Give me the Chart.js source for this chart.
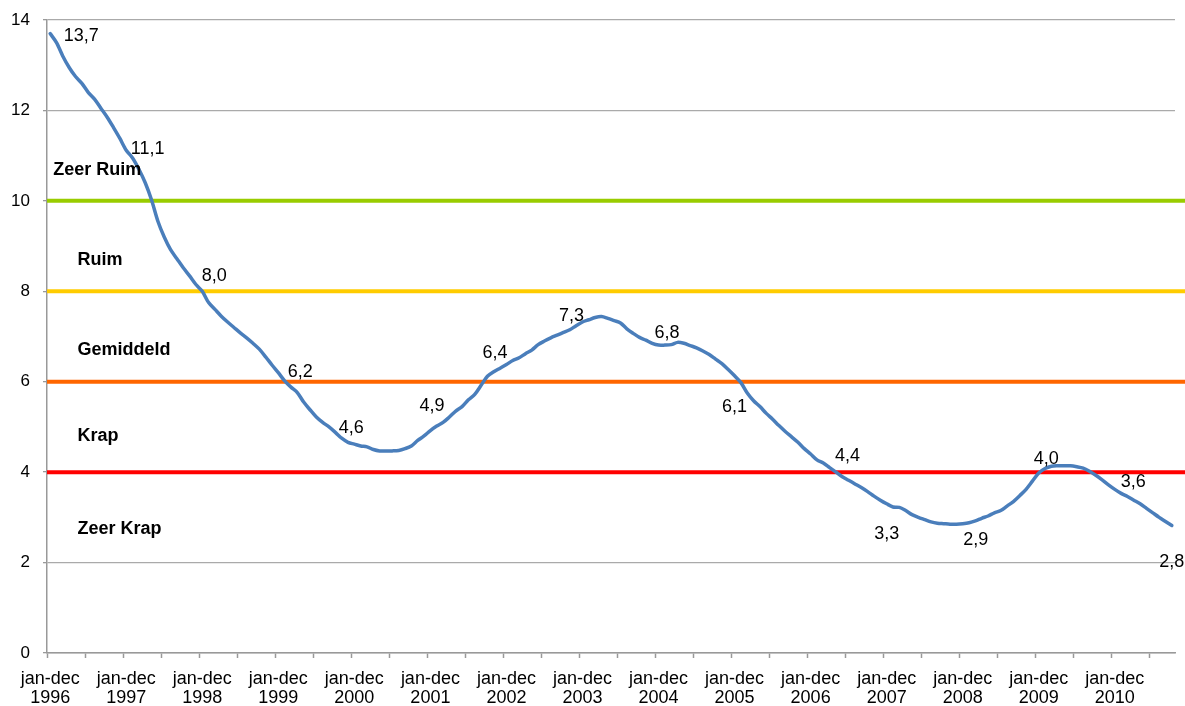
<!DOCTYPE html>
<html>
<head>
<meta charset="utf-8">
<script src="https://cdn.jsdelivr.net/npm/chart.js@4.4.1/dist/chart.umd.min.js"></script>
<style>
html,body{margin:0;padding:0;background:#fff;}
#wrap{width:1185px;height:706px;position:relative;}
</style>
</head>
<body>
<div id="wrap"><canvas id="c"></canvas></div>
<script>
// ---- data ----
const years = [1996,1997,1998,1999,2000,2001,2002,2003,2004,2005,2006,2007,2008,2009,2010];
const monthNames = ['jan','feb','mrt','apr','mei','jun','jul','aug','sep','okt','nov','dec'];
const values = [
  13.7,13.5,13.2,12.95,12.75,12.6,12.4,12.25,12.05,11.85,11.62,11.38,
  11.12,10.95,10.7,10.4,10.02,9.55,9.2,8.92,8.72,8.52,8.34,8.15,
  8.0,7.75,7.6,7.45,7.32,7.2,7.08,6.97,6.85,6.72,6.55,6.37,
  6.2,6.02,5.88,5.76,5.55,5.38,5.22,5.1,5.0,4.88,4.75,4.66,
  4.62,4.58,4.56,4.5,4.47,4.47,4.47,4.48,4.52,4.58,4.7,4.8,
  4.92,5.02,5.1,5.22,5.35,5.45,5.6,5.72,5.92,6.12,6.22,6.3,
  6.38,6.47,6.53,6.62,6.7,6.82,6.9,6.97,7.03,7.09,7.15,7.24,
  7.32,7.37,7.42,7.44,7.4,7.35,7.3,7.17,7.07,6.98,6.92,6.85,
  6.81,6.81,6.82,6.87,6.85,6.8,6.75,6.68,6.6,6.5,6.4,6.27,
  6.13,5.98,5.75,5.58,5.45,5.3,5.17,5.03,4.9,4.78,4.66,4.52,
  4.4,4.27,4.2,4.1,4.0,3.9,3.82,3.74,3.66,3.57,3.47,3.38,
  3.3,3.23,3.22,3.15,3.06,3.0,2.95,2.9,2.87,2.86,2.85,2.85,
  2.86,2.88,2.92,2.98,3.03,3.1,3.15,3.25,3.35,3.48,3.62,3.8,
  3.98,4.08,4.13,4.14,4.14,4.14,4.12,4.09,4.02,3.93,3.83,3.72,
  3.62,3.53,3.46,3.38,3.3,3.2,3.1,3.0,2.91,2.82
];
const categories = values.map((v, i) => monthNames[i % 12] + ' ' + years[Math.floor(i / 12)]);
const tickLabels = years.map(y => ['jan-dec', String(y)]);
const thresholdValues = [10, 8, 6, 4];
const thresholdColors = ['#99CC00', '#FFCC00', '#FF6600', '#FF0000'];
const bandNames = ['Zeer Ruim', 'Ruim', 'Gemiddeld', 'Krap', 'Zeer Krap'];
const labelIndices = [0,12,24,36,48,60,72,84,96,108,120,132,144,156,168,177];

// ---- layout (not data) ----
const labelOffsets = [[31,2],[21.5,-1],[12,-15],[22,-1],[-3,-16],[1.5,-25],[-11.5,-12],[-11,-6],
  [8.5,-12],[0,31],[37,2],[0,30],[13,16],[7.5,-14],[18.5,-7],[0,37]];
const bandPos = [[0.5,10.68],[4.3,8.69],[4.3,6.70],[4.3,4.80],[4.3,2.74]];
const FONT = '"Liberation Sans", Arial, sans-serif';

const fmt = v => v.toFixed(1).replace('.', ',');

const overlay = {
  id: 'overlay',
  afterDatasetsDraw(chart) {
    const ctx = chart.ctx;
    const meta = chart.getDatasetMeta(0);
    const xs = chart.scales.x, ys = chart.scales.y;
    ctx.save();
    ctx.fillStyle = '#000';
    ctx.font = '18px ' + FONT;
    ctx.textAlign = 'center';
    ctx.textBaseline = 'middle';
    labelIndices.forEach((idx, k) => {
      const p = meta.data[idx];
      ctx.fillText(fmt(values[idx]), p.x + labelOffsets[k][0], p.y + labelOffsets[k][1]);
    });
    ctx.font = 'bold 18px ' + FONT;
    ctx.textAlign = 'left';
    bandNames.forEach((n, k) => {
      ctx.fillText(n, xs.getPixelForValue(bandPos[k][0]), ys.getPixelForValue(bandPos[k][1]));
    });
    ctx.restore();
  }
};

const datasets = [{
  label: 'Woningmarkt',
  data: values,
  borderColor: '#4A7EBB',
  borderWidth: 3.5,
  pointRadius: 0,
  tension: 0.3,
  borderJoinStyle: 'round',
  borderCapStyle: 'round',
  xAxisID: 'x'
}];
thresholdValues.forEach((t, k) => {
  datasets.push({
    label: 'grens ' + t,
    data: [{x: -0.5, y: t}, {x: values.length + 1.1, y: t}],
    borderColor: thresholdColors[k],
    borderWidth: 4,
    pointRadius: 0,
    xAxisID: 'xt',
    clip: false
  });
});

new Chart(document.getElementById('c'), {
  type: 'line',
  data: { labels: categories, datasets },
  plugins: [overlay],
  options: {
    responsive: true,
    maintainAspectRatio: false,
    devicePixelRatio: 1,
    animation: false,
    events: [],
    layout: { padding: { top: 20, right: 10, left: 0, bottom: 0 } },
    plugins: { legend: { display: false }, tooltip: { enabled: false } },
    scales: {
      x: {
        type: 'category',
        offset: true,
        afterFit: s => { s.height = 53; },
        border: { display: true, color: '#999', width: 1.5 },
        grid: {
          offset: true,
          drawOnChartArea: false,
          drawTicks: true,
          tickLength: 5,
          tickWidth: 1.5,
          tickColor: c => (c.index % 6 === 0 ? '#999' : 'rgba(0,0,0,0)')
        },
        ticks: {
          autoSkip: false,
          maxRotation: 0,
          minRotation: 0,
          padding: 11,
          color: '#000',
          font: { family: FONT, size: 18, lineHeight: 1.08 },
          callback: (v, i) => (i % 12 === 0 ? tickLabels[i / 12] : '')
        }
      },
      xt: {
        type: 'linear',
        display: false,
        min: -0.5,
        max: values.length - 0.5
      },
      y: {
        min: 0,
        max: 14,
        afterFit: s => { s.width = 47; },
        border: { display: true, color: '#999', width: 1.5 },
        grid: {
          color: '#AAAAAA',
          lineWidth: 1.3,
          tickLength: 17,
          tickColor: '#999',
          tickBorderDash: [4, 100],
          tickBorderDashOffset: 91
        },
        ticks: {
          stepSize: 2,
          padding: 0,
          color: '#000',
          font: { family: FONT, size: 17 }
        }
      }
    }
  }
});
</script>
</body>
</html>
